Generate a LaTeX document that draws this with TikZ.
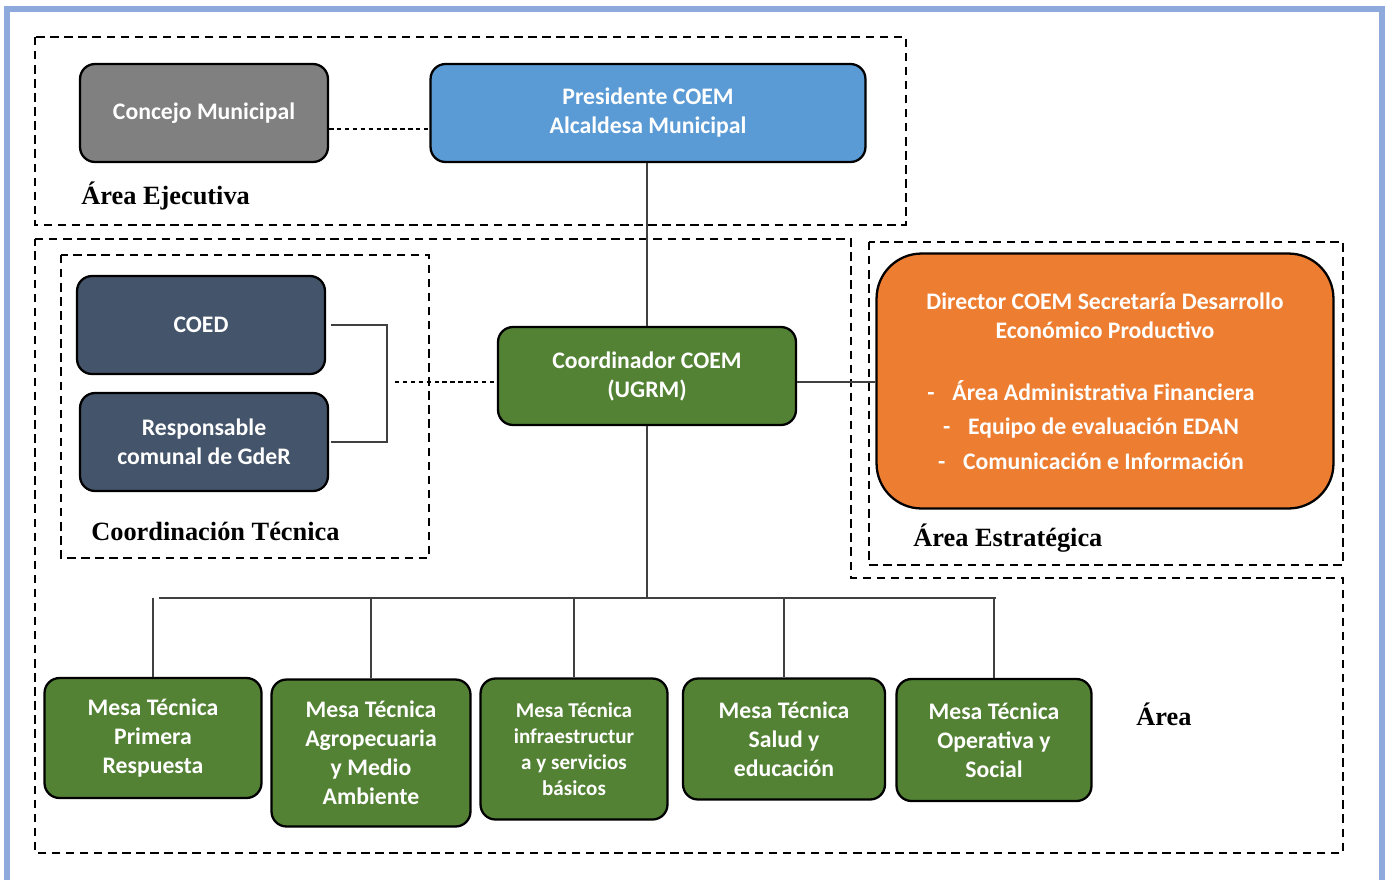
\documentclass[tikz,border=0pt]{standalone}
\usepackage{fontspec}
\setmainfont{Liberation Serif}
\newfontfamily\boxfont{Carlito}
\usetikzlibrary{positioning}
\definecolor{frameblue}{RGB}{142,169,219}
\definecolor{concejogray}{RGB}{128,128,128}
\definecolor{presblue}{RGB}{91,155,213}
\definecolor{coednavy}{RGB}{68,84,106}
\definecolor{mesagreen}{RGB}{84,130,53}
\definecolor{dirorange}{RGB}{237,125,49}

\begin{document}
\begin{tikzpicture}[x=0.02cm,y=-0.02cm,
  orgbox/.style={draw,line width=1.3pt,rounded corners=0.3cm,text=white,align=center,inner sep=0pt,
    font=\boxfont\bfseries\fontsize{13.5}{16.5}\selectfont},
  mesabox/.style={orgbox,fill=mesagreen},
  areabox/.style={line width=1.6pt,dash pattern=on 4.8pt off 3.2pt},
  arealbl/.style={anchor=west,inner sep=0pt,font=\bfseries\fontsize{15}{18}\selectfont},
  link/.style={line width=0.8pt,black!75},
  dotlink/.style={line width=0.7pt,dash pattern=on 2.5pt off 2pt}]
\useasboundingbox (0,0) rectangle (1385,880);
\draw[frameblue,line width=3pt] (7,880) -- (7,9) -- (1382,9) -- (1382,880);
\draw[areabox] (35,37) rectangle (906,225);
\draw[areabox] (35,239) -- (851,239) -- (851,578) -- (1343,578) -- (1343,853) -- (35,853) -- cycle;
\draw[areabox] (61,255) rectangle (429,558);
\draw[areabox] (869,242) rectangle (1343,565);
\node[orgbox,fill=concejogray,minimum width=4.96cm,minimum height=1.96cm] (concejo) at (204,113) {Concejo Municipal};
\node[orgbox,fill=presblue,minimum width=8.7cm,minimum height=1.96cm] (presidente) at (648,113) {Presidente COEM\\Alcaldesa Municipal};
\node[orgbox,fill=coednavy,minimum width=4.96cm,minimum height=1.96cm] (coed) at (201,325) {COED};
\node[orgbox,fill=coednavy,minimum width=4.96cm,minimum height=1.96cm] (resp) at (204,442) {Responsable\\comunal de GdeR};
\node[orgbox,fill=mesagreen,minimum width=5.96cm,minimum height=1.96cm] (coord) at (647,376) {Coordinador COEM\\(UGRM)};
\node[orgbox,fill=dirorange,rounded corners=0.9cm,minimum width=9.14cm,minimum height=5.1cm] (director) at (1105,381) {Director COEM Secretaría Desarrollo\\Económico Productivo\\[19pt]\hspace*{-16pt}-\hspace{0.75em}Área Administrativa Financiera\\[3pt]\hspace*{-16pt}-\hspace{0.75em}Equipo de evaluación EDAN\\[3pt]\hspace*{-16pt}-\hspace{0.75em}Comunicación e Información};
\node[mesabox,minimum width=4.34cm,minimum height=2.4cm] (mesa1) at (153,738) {Mesa Técnica\\Primera\\Respuesta};
\node[mesabox,minimum width=3.98cm,minimum height=2.94cm] (mesa2) at (371,753) {Mesa Técnica\\Agropecuaria\\y Medio\\Ambiente};
\node[mesabox,minimum width=3.74cm,minimum height=2.82cm,font=\boxfont\bfseries\fontsize{12}{14.8}\selectfont] (mesa3) at (574,749) {Mesa Técnica\\infraestructur\\a y servicios\\básicos};
\node[mesabox,minimum width=4.04cm,minimum height=2.42cm] (mesa4) at (784,739) {Mesa Técnica\\Salud y\\educación};
\node[mesabox,minimum width=3.9cm,minimum height=2.44cm] (mesa5) at (994,740) {Mesa Técnica\\Operativa y\\Social};
\node[arealbl] (lblejec) at (81,196) {Área Ejecutiva};
\node[arealbl] (lblcoord) at (91,531) {Coordinación Técnica};
\node[arealbl] (lblestr) at (913,538) {Área Estratégica};
\node[arealbl] (lblarea) at (1136,714) {Área};
\coordinate (busL) at (159,598);
\coordinate (busR) at (996,598);
\coordinate (ctjoin) at (395,382);
\draw[dotlink] ([yshift=-0.32cm]concejo.east) -- ([yshift=-0.32cm]presidente.west);
\draw[link] (coord.north |- presidente.south) -- (coord.north);
\draw[link] ([yshift=-0.12cm]coord.east) -- ([yshift=-0.12cm]coord.east -| director.west);
\draw[link] ([xshift=0.1cm]coed.east) -- ++(56,0) |- ([xshift=0.04cm]resp.east);
\draw[dotlink] (ctjoin) -- (ctjoin -| coord.west);
\draw[link] (coord.south) -- (coord.south |- busL);
\draw[link] (busL) -- (busR);
\foreach \m in {mesa1,mesa2,mesa3,mesa4,mesa5}
  \draw[link] (\m.north) -- (\m.north |- busL);
\end{tikzpicture}
\end{document}
